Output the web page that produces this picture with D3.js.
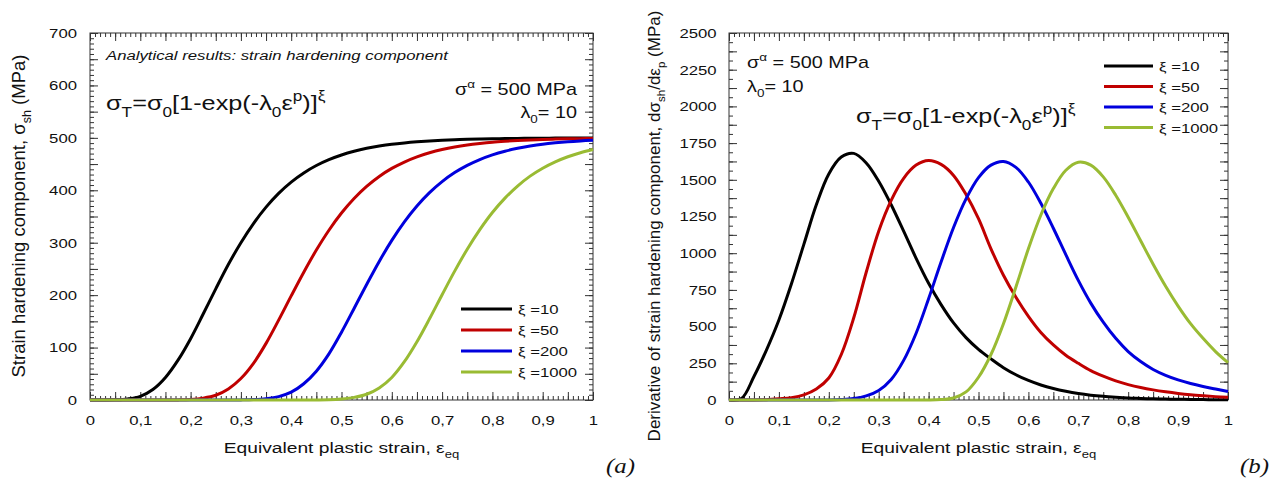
<!DOCTYPE html>
<html>
<head>
<meta charset="utf-8">
<script src="https://cdn.jsdelivr.net/npm/d3@7"></script>
<style>
  body { margin: 0; background: #fff; }
  svg { display: block; font-family: Arial, "Liberation Sans", sans-serif; }
</style>
</head>
<body>
<svg id="chart" width="1284" height="482"></svg>
<script>
// DATA
const strain = [0, 0.025, 0.05, 0.075, 0.1, 0.125, 0.15, 0.175, 0.2, 0.225, 0.25, 0.275, 0.3, 0.325, 0.35,
  0.375, 0.4, 0.425, 0.45, 0.475, 0.5, 0.525, 0.55, 0.575, 0.6, 0.625, 0.65, 0.675, 0.7, 0.725, 0.75,
  0.775, 0.8, 0.825, 0.85, 0.875, 0.9, 0.925, 0.95, 0.975, 1];

// (a) strain hardening component, MPa
const sigma10 = [0, 0, 0.3, 2, 7, 20, 43, 76, 117, 164, 212, 258.4, 300, 336.6, 367.9,
  394.2, 415.7, 433.1, 447.2, 458.4, 467.3, 474.4, 480, 484.3, 487.8, 490.4, 492.5, 494.2, 495.5, 496.5,
  497.2, 497.9, 498.3, 498.7, 499, 499.2, 499.4, 499.5, 499.6, 499.7, 499.8];
const sigma50 = [0, 0, 0, 0, 0, 0, 0, 0.2, 1, 3.5, 9, 21, 41, 70, 108, 152.3, 198.6, 243.8,
  286, 323.8, 356.6, 384.3, 407.4, 426.4, 441.7, 453.9, 463.8, 471.5, 477.7, 482.6, 486.4, 489.3, 491.7,
  493.5, 495, 496.1, 496.9, 497.6, 498.1, 498.5, 498.9];
const sigma200 = [0, 0, 0, 0, 0, 0, 0, 0, 0, 0, 0, 0, 0.2, 0.8, 2.5, 6.5, 15, 31, 55, 88, 129.3,
  174.6, 220.4, 264.3, 304.4, 339.8, 370.1, 395.5, 416.6, 433.8, 447.6, 458.7, 467.6, 474.6, 480.1, 484.4,
  487.9, 490.5, 492.6, 494.2, 495.5];
const sigma1000 = [0, 0, 0, 0, 0, 0, 0, 0, 0, 0, 0, 0, 0, 0, 0, 0, 0, 0, 0.1, 0.5, 2, 5, 11, 23, 43,
  73, 111.1, 154.9, 200.8, 245.8, 287.6, 325, 357.7, 385.1, 408.1, 427, 442.1, 454.2, 463.9, 471.7, 477.8];

// (b) derivative of the strain hardening component, MPa
const dsig10 = [0, 10, 160, 340, 545, 790, 1060, 1330, 1540, 1655, 1680, 1615, 1490, 1330, 1150, 965, 795,
  650, 525, 425, 345, 280, 220, 172, 133, 102, 78, 59, 44, 33, 25, 19, 14, 11, 8, 6, 5, 4, 3, 2, 2];
const dsig50 = [0, 0, 0, 2, 8, 16, 35, 75, 150, 310, 560, 870, 1150, 1360, 1510, 1600, 1632, 1605, 1530,
  1400, 1235, 1030, 850, 700, 570, 460, 375, 305, 250, 200, 162, 130, 105, 85, 69, 56, 45, 36, 29, 23, 18];
const dsig200 = [0, 0, 0, 0, 0, 0, 0, 0, 0, 3, 10, 28, 65, 140, 270, 455, 690, 940, 1175, 1370, 1515, 1600,
  1625, 1585, 1485, 1340, 1170, 990, 815, 660, 530, 420, 330, 262, 208, 168, 137, 112, 92, 75, 58];
const dsig1000 = [0, 0, 0, 0, 0, 0, 0, 0, 0, 0, 0, 0, 0, 0, 0, 0, 0, 3, 14, 55, 155, 310, 520, 770, 1030,
  1260, 1440, 1565, 1620, 1600, 1520, 1395, 1245, 1085, 925, 775, 640, 520, 420, 330, 255];

const xiLabels = ["ξ =10", "ξ =50", "ξ =200", "ξ =1000"];
const seriesColors = ["#000000", "#c00000", "#0000dd", "#99bb33"];
const xTickValues = [0, 0.1, 0.2, 0.3, 0.4, 0.5, 0.6, 0.7, 0.8, 0.9, 1];
const xTickLabels = ["0", "0,1", "0,2", "0,3", "0,4", "0,5", "0,6", "0,7", "0,8", "0,9", "1"];
const yTicksA = [0, 100, 200, 300, 400, 500, 600, 700];
const yTicksB = [0, 250, 500, 750, 1000, 1250, 1500, 1750, 2000, 2250, 2500];

// text in the original is drawn a bit wide
const SX = 1.24;

const svg = d3.select("#chart");
svg.append("rect").attr("width", 1284).attr("height", 482).attr("fill", "#fff");

function rich(parent, x, y, parts, size, opt = {}) {
  const tr = opt.rotate ? `translate(${x},${y}) rotate(-90)` : `translate(${x},${y}) scale(${SX},1)`;
  const t = parent.append("text")
    .attr("transform", tr)
    .attr("font-size", size)
    .attr("fill", "#111")
    .attr("text-anchor", opt.anchor || "start")
    .attr("font-style", opt.italic ? "italic" : null)
    .attr("font-family", opt.family || null);
  let shift = 0;
  parts.forEach(p => {
    const txt = Array.isArray(p) ? p[0] : p;
    const kind = Array.isArray(p) ? p[1] : null;
    const target = kind === "sub" ? size * 0.32 : kind === "sup" ? -size * 0.42 : 0;
    t.append("tspan")
      .attr("dy", target - shift)
      .attr("font-size", kind ? size * 0.68 : size)
      .text(txt);
    shift = target;
  });
  return t;
}

function drawPanel(p) {
  const g = svg.append("g").attr("transform", `translate(${p.left},${p.top})`);
  const x = d3.scaleLinear().domain([0, 1]).range([0, p.width]);
  const y = d3.scaleLinear().domain([0, p.yMax]).range([p.height, 0]);

  g.append("rect")
    .attr("width", p.width).attr("height", p.height)
    .attr("fill", "none").attr("stroke", "#333").attr("stroke-width", 1);

  // inward ticks on all four sides
  const tickSet = (axisFn, scale, vals, size, tr) => {
    g.append("g")
      .attr("transform", tr)
      .attr("color", "#333")
      .call(axisFn(scale).tickValues(vals).tickSize(-size).tickFormat(""))
      .call(a => a.select(".domain").remove());
  };
  const xMinor = d3.range(0, 1.0001, 0.01);
  const xMid = d3.range(0, 1.0001, 0.05);
  const yMinor = d3.range(0, p.yMax + 0.01, p.yMinor);
  const yMid = d3.range(0, p.yMax + 0.01, p.yMid);
  [[xMinor, 4], [xMid, 8]].forEach(([v, s]) => {
    tickSet(d3.axisBottom, x, v, s, `translate(0,${p.height})`);
    tickSet(d3.axisTop, x, v, s, "translate(0,0)");
  });
  [[yMinor, 4], [yMid, 8]].forEach(([v, s]) => {
    tickSet(d3.axisLeft, y, v, s, "translate(0,0)");
    tickSet(d3.axisRight, y, v, s, `translate(${p.width},0)`);
  });

  // tick labels
  const xAxis = g.append("g")
    .attr("transform", `translate(0,${p.height})`)
    .call(d3.axisBottom(x).tickValues(xTickValues).tickSize(0).tickPadding(15)
      .tickFormat((d, i) => xTickLabels[i]));
  const yAxis = g.append("g")
    .call(d3.axisLeft(y).tickValues(p.yTicks).tickSize(0).tickPadding(p.yPad)
      .tickFormat(d => String(d)));
  [xAxis, yAxis].forEach(a => {
    a.select(".domain").remove();
    a.attr("font-size", 13.5).attr("font-family", null);
    a.selectAll("text").attr("fill", "#111").attr("transform", `scale(${SX},1)`);
  });

  // curves
  const line = d3.line()
    .x((d, i) => x(strain[i]))
    .y(d => y(Math.max(d, 0)))
    .curve(d3.curveCatmullRom.alpha(0.5));
  p.series.forEach((s, i) => {
    g.append("path")
      .attr("d", line(s))
      .attr("fill", "none")
      .attr("stroke", seriesColors[i])
      .attr("stroke-width", 3)
      .attr("stroke-linejoin", "round");
  });

  // legend
  xiLabels.forEach((lab, i) => {
    const ly = p.legend.y + i * p.legend.dy;
    g.append("line")
      .attr("x1", p.legend.x).attr("x2", p.legend.x + p.legend.len)
      .attr("y1", ly).attr("y2", ly)
      .attr("stroke", seriesColors[i]).attr("stroke-width", 3);
    rich(g, p.legend.x + p.legend.len + 6, ly + 5, [lab], 13.5);
  });

  // x title
  rich(g, p.width / 2, p.height + 53,
    ["Equivalent plastic strain, ε", ["eq", "sub"]], 15.5, { anchor: "middle" });
  return g;
}

const gA = drawPanel({
  left: 90, top: 33, width: 503, height: 367,
  yMax: 700, yMinor: 10, yMid: 50, yTicks: yTicksA, yPad: 10.5,
  series: [sigma10, sigma50, sigma200, sigma1000],
  legend: { x: 371, y: 276, dy: 21, len: 51 }
});
const gB = drawPanel({
  left: 729, top: 33, width: 499, height: 367,
  yMax: 2500, yMinor: 62.5, yMid: 125, yTicks: yTicksB, yPad: 10,
  series: [dsig10, dsig50, dsig200, dsig1000],
  legend: { x: 375, y: 33, dy: 20.5, len: 49 }
});

// y titles
rich(svg, 25, 216, ["Strain hardening component, σ", ["sh", "sub"], "  (MPa)"], 18.5,
  { rotate: true, anchor: "middle" });
rich(svg, 660, 226, ["Derivative of strain hardening component, dσ", ["sh", "sub"], "/dε", ["p", "sub"], "  (MPa)"], 17,
  { rotate: true, anchor: "middle" });

// annotations (a)
const formula = ["σ", ["T", "sub"], "=σ", ["0", "sub"], "[1-exp(-λ", ["0", "sub"], "ε", ["p", "sup"], ")]", ["ξ", "sup"]];
rich(svg, 106, 60, ["Analytical results: strain hardening component"], 13.5, { italic: true });
rich(svg, 106, 110, formula, 20.4);
rich(svg, 577, 95, ["σ", ["α", "sup"], " = 500 MPa"], 16, { anchor: "end" });
rich(svg, 577, 118, ["λ", ["0", "sub"], "= 10"], 16, { anchor: "end" });

// annotations (b)
rich(svg, 747, 68, ["σ", ["α", "sup"], " = 500 MPa"], 16);
rich(svg, 747, 92, ["λ", ["0", "sub"], "= 10"], 16);
rich(svg, 856, 123, formula, 20.4);

// panel letters
rich(svg, 606, 473, ["(a)"], 20, { italic: true, family: "'Times New Roman', 'Liberation Serif', serif" });
rich(svg, 1240, 473, ["(b)"], 20, { italic: true, family: "'Times New Roman', 'Liberation Serif', serif" });
</script>
</body>
</html>
